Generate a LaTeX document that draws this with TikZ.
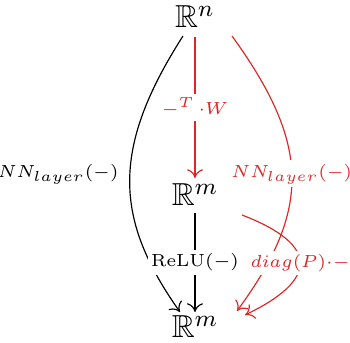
\documentclass[tikz,border=0pt]{standalone}
\usepackage{amssymb}
\usetikzlibrary{arrows.meta}
\definecolor{myred}{RGB}{222,38,38}
\begin{document}
\begin{tikzpicture}[x=0.3425pt,y=-0.3425pt,
  arr/.style={-{To[length=3pt,width=5.5pt]}, line width=0.4pt},
  redarr/.style={arr, draw=myred, text=myred},
  desc/.style={fill=white, inner sep=1.2pt, font=\fontsize{6}{7}\selectfont},
  lab/.style={inner sep=1.2pt, font=\fontsize{6}{7}\selectfont},
  obj/.style={inner sep=0pt, font=\fontsize{10.9}{13}\selectfont}]
\useasboundingbox (0,0) rectangle (350,343);
\node[obj] (A) at (195,17) {$\mathbb{R}^n$};
\node[obj] (B) at (195,195) {$\mathbb{R}^m$};
\node[obj] (C) at (195,327) {$\mathbb{R}^m$};
\coordinate (a1) at (183,36);
\coordinate (a2) at (195,37);
\coordinate (a3) at (232,36);
\coordinate (b1) at (195,178);
\coordinate (b2) at (195,213);
\coordinate (b3) at (242,215);
\coordinate (c1) at (180,312);
\coordinate (c2) at (195,312);
\coordinate (c3) at (237,311);
\coordinate (c4) at (245,315);
\draw[arr] (a1) .. controls (110,150) and (115,220) .. node[lab, pos=0.47, left=2.5pt] {$NN_{layer}(-)$} (c1);
\draw[redarr] (a2) -- node[desc, pos=0.5] {$-^{T}\,{\cdot}W$} (b1);
\draw[arr] (b2) -- node[desc, pos=0.5] {$\mathrm{ReLU}(-)$} (c2);
\draw[redarr] (a3) .. controls (311,145) and (311,210) .. node[desc, pos=0.49] {$NN_{layer}(-)$} (c3);
\draw[redarr] (b3) .. controls (320,245) and (318,280) .. node[desc, pos=0.5] {$diag(P){\cdot}{-}$} (c4);
\end{tikzpicture}
\end{document}
